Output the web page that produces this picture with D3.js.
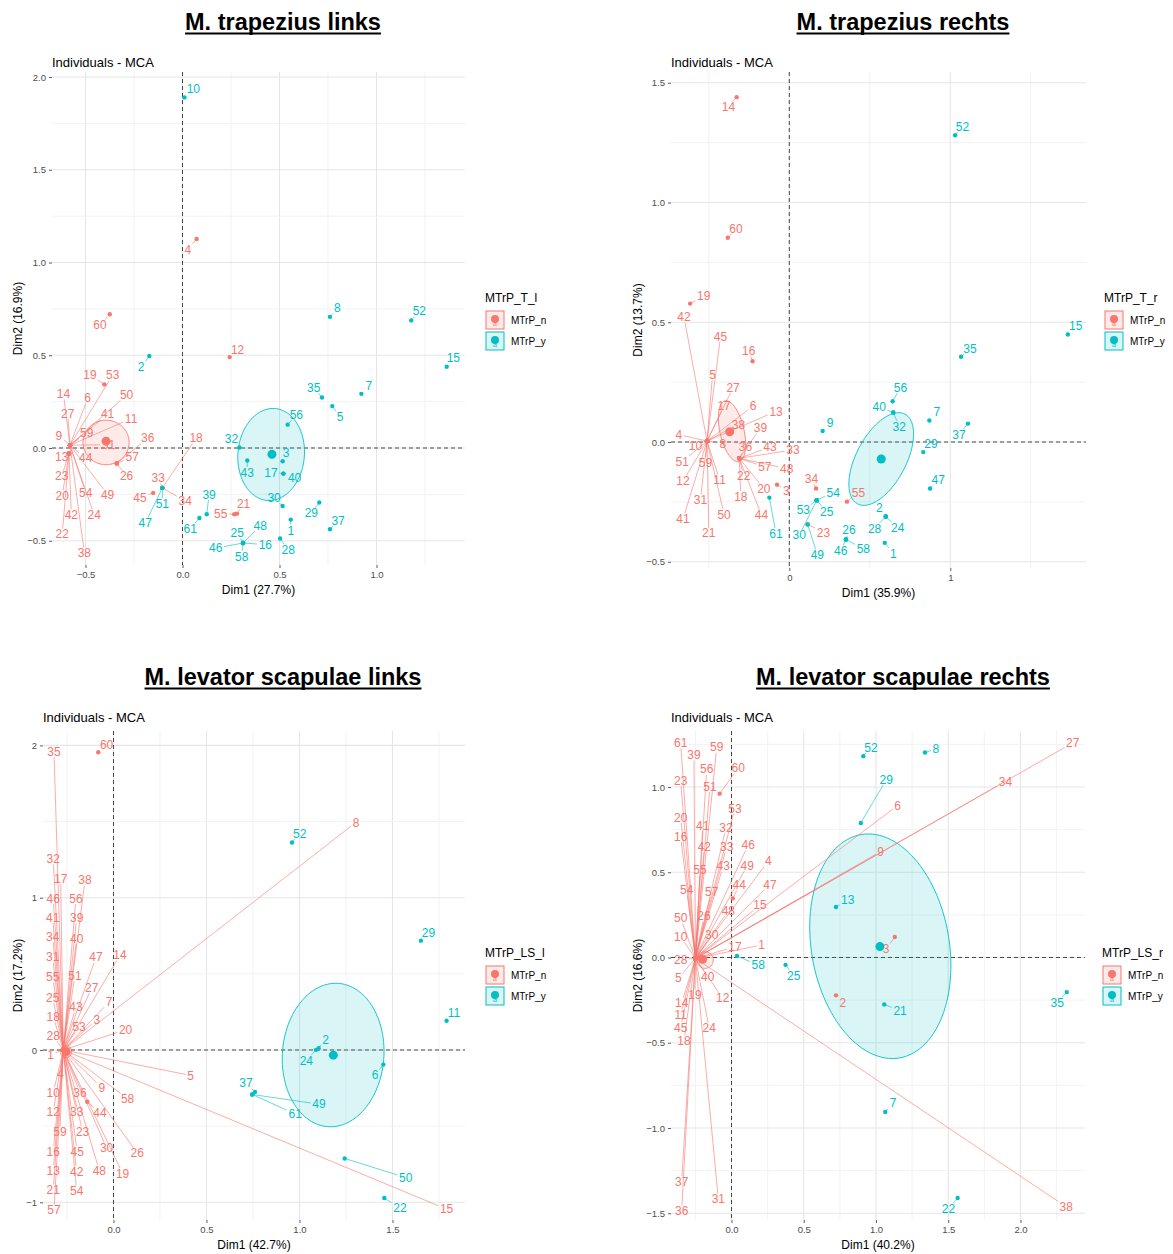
<!DOCTYPE html>
<html lang="en">
<head>
<meta charset="UTF-8">
<title>MCA individuals</title>
<script src="https://d3js.org/d3.v7.min.js"></script>
<style>
  body { margin: 0; background: #fff; }
  svg { font-family: "Liberation Sans", Arial, sans-serif; }
</style>
</head>
<body>
<div id="chart"></div>
<script>
// ---- data ----
const individuals = d3.range(1, 62).map(String);
const levels = ["MTrP_n", "MTrP_y"];

// M. trapezius links
const yesTL = [1,2,3,5,7,8,10,15,16,17,25,28,29,30,32,35,37,39,40,43,46,47,48,51,52,56,58,61];
const dim1TL = [0.558,-0.171,0.516,0.073,0.772,-0.58,0.922,0.760,-0.58,0.010,
  -0.58,0.243,-0.585,-0.58,1.362,0.312,0.520,-0.104,-0.403,-0.585,
  0.281,-0.585,-0.585,-0.58,0.312,-0.339,-0.58,0.503,0.705,0.516,
  -0.58,0.293,-0.104,-0.104,0.719,-0.339,0.760,-0.58,0.125,0.520,
  -0.58,-0.585,0.334,-0.58,-0.151,0.312,-0.104,0.312,-0.58,-0.58,
  -0.104,1.179,-0.58,-0.58,0.267,0.542,-0.339,0.312,-0.58,-0.375,0.087];
const dim2TL = [-0.386,0.496,-0.071,1.127,0.226,0.015,0.292,0.707,0.015,1.890,
  0.015,0.490,-0.03,0.015,0.438,-0.512,-0.138,-0.215,0.343,-0.03,
  -0.354,-0.03,-0.03,0.015,-0.512,-0.083,0.015,-0.488,-0.294,-0.313,
  0.015,0.003,-0.215,-0.215,0.272,-0.083,-0.438,0.015,-0.357,-0.138,
  0.015,-0.03,-0.067,0.015,-0.242,-0.512,-0.215,-0.512,0.015,0.015,
  -0.215,0.688,0.015,0.015,-0.357,0.126,-0.083,-0.512,0.015,0.721,-0.377];
const labDim1TL = [0.558,-0.214,0.534,0.027,0.812,-0.489,0.960,0.798,-0.637,0.056,
  -0.265,0.284,-0.623,-0.614,1.396,0.427,0.456,0.070,-0.477,-0.620,
  0.315,-0.620,-0.623,-0.455,0.282,-0.288,-0.592,0.545,0.664,0.472,
  -0.382,0.252,-0.125,0.014,0.676,-0.179,0.802,-0.506,0.137,0.578,
  -0.386,-0.573,0.334,-0.499,-0.219,0.171,-0.192,0.401,-0.386,-0.288,
  -0.104,1.221,-0.360,-0.499,0.197,0.587,-0.259,0.305,-0.494,-0.425,0.040];
const labDim2TL = [-0.444,0.438,-0.026,1.071,0.168,0.268,0.334,0.755,0.066,1.934,
  0.158,0.532,-0.049,0.292,0.484,-0.521,-0.132,0.053,0.397,-0.256,
  -0.300,-0.465,-0.152,-0.361,-0.458,-0.152,0.186,-0.548,-0.351,-0.267,
  0.018,0.047,-0.161,-0.286,0.324,0.053,-0.390,-0.565,-0.251,-0.161,
  0.182,-0.361,-0.132,-0.055,-0.267,-0.540,-0.405,-0.420,-0.251,0.286,
  -0.301,0.738,0.394,-0.242,-0.354,0.178,-0.049,-0.584,0.080,0.663,-0.434];
const centroidsTL = [["n",-0.394,0.037],["y",0.461,-0.034]];
const ellipsesTL = [["n",-0.394,0.03,0.119,0,0,0.12],["y",0.457,-0.035,0.018,0.248,0.171,-0.012]];

// M. trapezius rechts
const yesTR = [1,2,7,9,15,24,25,26,28,29,30,32,35,37,40,46,47,49,52,53,54,56,58,61];
const dim1TR = [0.593,0.599,-0.076,-0.511,-0.511,-0.511,0.870,-0.511,0.207,-0.511,
  -0.511,-0.511,-0.511,-0.327,1.730,-0.228,-0.511,-0.311,-0.616,-0.311,
  -0.511,-0.311,0.114,0.599,0.170,0.352,-0.511,0.599,0.832,0.170,
  -0.511,0.646,-0.311,0.166,1.067,-0.311,1.110,-0.511,-0.311,0.646,
  -0.511,-0.511,-0.311,-0.311,-0.511,0.352,0.874,-0.311,0.114,-0.511,
  -0.511,1.030,0.170,0.170,0.358,0.642,-0.311,0.352,-0.511,-0.382,-0.124];
const dim2TR = [-0.421,-0.311,-0.178,0.004,0.004,0.004,0.090,0.004,0.046,0.004,
  0.004,0.004,0.004,1.440,0.449,0.337,0.004,-0.068,0.578,-0.068,
  0.004,-0.068,-0.344,-0.311,-0.243,-0.407,0.004,-0.311,-0.042,-0.243,
  0.004,0.123,-0.068,-0.194,0.356,-0.068,0.077,0.004,-0.068,0.123,
  0.004,0.004,-0.068,-0.068,0.004,-0.407,-0.194,-0.068,-0.344,0.004,
  0.004,1.281,-0.243,-0.243,-0.249,0.170,-0.068,-0.407,0.004,0.853,-0.232];
const labDim1TR = [0.646,0.559,-0.019,-0.686,-0.477,-0.225,0.916,-0.413,0.253,-0.583,
  -0.433,-0.660,-0.082,-0.378,1.779,-0.252,-0.405,-0.301,-0.532,-0.158,
  -0.500,-0.283,0.212,0.673,0.232,0.371,-0.349,0.530,0.880,0.062,
  -0.552,0.683,0.023,0.138,1.122,-0.272,1.054,-0.316,-0.179,0.559,
  -0.660,-0.654,-0.120,-0.173,-0.427,0.319,0.925,-0.016,0.174,-0.405,
  -0.665,1.076,0.087,0.273,0.430,0.690,-0.152,0.460,-0.521,-0.331,-0.083];
const labDim2TR = [-0.465,-0.276,-0.202,0.031,0.280,0.150,0.125,-0.007,0.081,-0.014,
  -0.157,-0.163,0.128,1.399,0.484,0.380,0.150,-0.227,0.611,-0.195,
  -0.381,-0.143,-0.377,-0.357,-0.292,-0.368,0.228,-0.361,-0.007,-0.389,
  -0.242,0.065,-0.033,-0.153,0.391,-0.021,0.032,0.074,0.059,0.146,
  -0.321,0.522,-0.021,-0.305,0.441,-0.453,-0.159,-0.111,-0.469,-0.302,
  -0.081,1.317,-0.285,-0.210,-0.213,0.227,-0.104,-0.446,-0.086,0.892,-0.382];
const centroidsTR = [["n",-0.370,0.043],["y",0.571,-0.071]];
const ellipsesTR = [["n",-0.356,0.045,-0.043,0.127,0.073,0.011],["y",0.571,-0.071,0.147,0.1875,0.137,-0.048]];

// M. levator scapulae links
const yesLSL = [2,6,11,22,24,29,37,49,50,52,61];
const dim1LSL = [-0.27,1.103,-0.27,-0.27,-0.27,1.451,-0.27,-0.27,-0.27,-0.27,
  1.791,-0.27,-0.27,-0.27,-0.27,-0.27,-0.27,-0.27,-0.27,-0.27,
  -0.27,1.456,-0.27,1.089,-0.27,-0.27,-0.27,-0.27,1.653,-0.27,
  -0.27,-0.27,-0.27,-0.27,-0.27,-0.27,0.761,-0.27,-0.27,-0.27,
  -0.27,-0.27,-0.27,-0.141,-0.27,-0.27,-0.27,-0.27,0.746,1.243,
  -0.27,0.960,-0.27,-0.27,-0.27,-0.27,-0.27,-0.27,-0.27,-0.082,0.746];
const dim2LSL = [0,0.012,0,0,0,-0.096,0,0,0,0,
  0.192,0,0,0,0,0,0,0,0,0,
  0,-0.972,0,0.001,0,0,0,0,0.718,0,
  0,0,0,0,0,0,-0.275,0,0,0,
  0,0,0,-0.340,0,0,0,0,-0.292,-0.712,
  0,1.362,0,0,0,0,0,0,0,1.955,-0.292];
const labDim1LSL = [-0.338,1.141,-0.090,-0.285,0.415,1.406,-0.023,1.304,-0.063,-0.324,
  1.831,-0.324,-0.324,0.035,1.791,-0.324,-0.284,-0.324,0.049,0.065,
  -0.324,1.540,-0.166,1.037,-0.327,0.128,-0.117,-0.324,1.694,-0.037,
  -0.327,-0.324,-0.198,-0.327,-0.320,-0.180,0.712,-0.153,-0.198,-0.198,
  -0.327,-0.198,-0.202,-0.073,-0.195,-0.324,-0.094,-0.076,1.105,1.571,
  -0.207,1.001,-0.185,-0.198,-0.327,-0.202,-0.320,0.076,-0.288,-0.037,0.977];
const labDim2LSL = [-0.029,0.070,0.201,-0.155,-0.167,-0.165,0.316,1.495,-0.248,-0.280,
  0.247,-0.408,-0.792,0.622,-1.045,-0.666,1.127,0.219,-0.811,0.132,
  -0.919,-1.038,-0.535,-0.068,0.345,-0.678,0.408,0.093,0.771,-0.643,
  0.610,1.254,-0.408,0.743,1.959,-0.280,-0.218,1.116,0.867,0.732,
  0.870,-0.799,0.284,-0.413,-0.666,0.996,0.610,-0.792,-0.356,-0.838,
  0.488,1.419,0.155,-0.926,0.479,0.994,-1.050,-0.321,-0.535,2.005,-0.420];
const centroidsLSL = [["n",-0.255,-0.01],["y",1.182,-0.034]];
const ellipsesLSL = [["n",-0.255,-0.01,0.03,0,0,0.04],["y",1.181,-0.033,0.02,0.471,0.273,-0.01]];

// M. levator scapulae rechts
const yesLSR = [7,8,13,21,22,25,29,35,52,58];
const dim1LSR = [-0.25,0.723,1.130,-0.25,-0.25,-0.25,1.064,1.339,-0.25,-0.25,
  -0.25,-0.25,0.723,-0.25,-0.25,-0.25,-0.25,-0.25,-0.25,-0.25,
  1.057,1.565,-0.25,-0.25,0.374,-0.25,-0.25,-0.25,0.895,-0.25,
  -0.25,-0.25,-0.25,-0.25,2.320,-0.25,-0.25,-0.25,-0.25,-0.25,
  -0.25,-0.25,-0.25,0.009,-0.25,-0.25,-0.25,-0.25,-0.25,-0.25,
  -0.25,0.912,-0.25,-0.25,-0.25,-0.25,-0.25,0.038,-0.25,-0.082,-0.25];
const dim2LSR = [-0.005,-0.222,0.120,-0.005,-0.005,-0.005,-0.906,1.202,-0.005,-0.005,
  -0.005,-0.005,0.296,-0.005,-0.005,-0.005,-0.005,-0.005,-0.005,-0.005,
  -0.275,-1.411,-0.005,-0.005,-0.043,-0.005,-0.005,-0.005,0.789,-0.005,
  -0.005,-0.005,-0.005,-0.005,-0.203,-0.005,-0.005,-0.005,-0.005,-0.005,
  -0.005,-0.005,-0.005,0.347,-0.005,-0.005,-0.005,-0.005,-0.005,-0.005,
  -0.005,1.181,-0.005,-0.005,-0.005,-0.005,-0.005,0.009,-0.005,0.961,-0.005];
const labDim1LSR = [0.209,0.770,1.069,0.255,-0.368,1.150,1.118,1.415,1.032,-0.352,
  -0.352,-0.061,0.804,-0.345,0.197,-0.352,0.024,-0.329,-0.253,-0.352,
  1.167,1.501,-0.352,-0.154,0.431,-0.190,2.362,-0.352,1.071,-0.137,
  -0.091,-0.038,-0.033,1.896,2.254,-0.345,-0.345,2.316,-0.260,-0.165,
  -0.199,-0.188,-0.057,0.054,-0.352,0.116,0.266,-0.022,0.109,-0.352,
  -0.149,0.965,0.024,-0.310,-0.218,-0.172,-0.137,0.185,-0.102,0.046,-0.352];
const labDim2LSR = [0.073,-0.265,0.050,0.566,-0.122,0.892,-0.854,1.224,0.622,0.122,
  -0.338,-0.239,0.341,-0.268,0.308,0.709,0.063,-0.490,-0.220,0.822,
  -0.312,-1.476,1.037,-0.415,-0.107,0.243,1.259,-0.015,1.043,0.132,
  -1.418,0.761,0.650,1.033,-0.265,-1.485,-1.315,-1.462,1.188,-0.112,
  0.773,0.650,0.537,0.425,-0.410,0.660,0.429,0.274,0.538,0.230,
  1.002,1.232,0.875,0.396,0.513,1.104,0.386,-0.045,1.233,1.111,1.260];
const centroidsLSR = [["n",-0.20,-0.01],["y",1.027,0.064]];
const ellipsesLSR = [["n",-0.183,-0.015,0.057,0,0,0.049],["y",1.030,0.066,-0.133,0.655,0.470,0.069]];

// ---- layout ----
const colors = { n: "#F8766D", y: "#00BFC4" };
const svg = d3.select("#chart").append("svg").attr("width", 1173).attr("height", 1254);

const panels = [
  { title: "M. trapezius links", titleX: 283, titleY: 30, left: 52, right: 465, top: 72, bottom: 565,
    xDomain: [-0.6727, 1.4562], yDomain: [-0.6307, 2.027], subY: 67,
    xTicks: [-0.5, 0, 0.5, 1], xFmt: ".1f", yTicks: [-0.5, 0, 0.5, 1, 1.5, 2], yFmt: ".1f", gx: 0.25, gy: 0.25,
    xTitle: "Dim1 (27.7%)", yTitle: "Dim2 (16.9%)", yTitleX: 18, legend: "MTrP_T_l", legX: 485, legY: 302,
    yes: yesTL, d1: dim1TL, d2: dim2TL, l1: labDim1TL, l2: labDim2TL, cen: centroidsTL, ell: ellipsesTL },
  { title: "M. trapezius rechts", titleX: 903, titleY: 30, left: 671, right: 1086, top: 72, bottom: 568,
    xDomain: [-0.7348, 1.8429], yDomain: [-0.526, 1.545], subY: 67,
    xTicks: [0, 1], xFmt: "d", yTicks: [-0.5, 0, 0.5, 1, 1.5], yFmt: ".1f", gx: 0.5, gy: 0.25,
    xTitle: "Dim1 (35.9%)", yTitle: "Dim2 (13.7%)", yTitleX: 638, legend: "MTrP_T_r", legX: 1104, legY: 302,
    yes: yesTR, d1: dim1TR, d2: dim2TR, l1: labDim1TR, l2: labDim2TR, cen: centroidsTR, ell: ellipsesTR },
  { title: "M. levator scapulae links", titleX: 283, titleY: 685, left: 43, right: 465, top: 731, bottom: 1220,
    xDomain: [-0.379, 1.890], yDomain: [-1.1162, 2.0945], subY: 722,
    xTicks: [0, 0.5, 1, 1.5], xFmt: ".1f", yTicks: [-1, 0, 1, 2], yFmt: "d", gx: 0.25, gy: 0.5,
    xTitle: "Dim1 (42.7%)", yTitle: "Dim2 (17.2%)", yTitleX: 18, legend: "MTrP_LS_l", legX: 485, legY: 957,
    yes: yesLSL, d1: dim1LSL, d2: dim2LSL, l1: labDim1LSL, l2: labDim2LSL, cen: centroidsLSL, ell: ellipsesLSL },
  { title: "M. levator scapulae rechts", titleX: 903, titleY: 685, left: 671, right: 1085, top: 731, bottom: 1220,
    xDomain: [-0.4187, 2.4464], yDomain: [-1.5396, 1.3284], subY: 722,
    xTicks: [0, 0.5, 1, 1.5, 2], xFmt: ".1f", yTicks: [-1.5, -1, -0.5, 0, 0.5, 1], yFmt: ".1f", gx: 0.25, gy: 0.25,
    xTitle: "Dim1 (40.2%)", yTitle: "Dim2 (16.6%)", yTitleX: 638, legend: "MTrP_LS_r", legX: 1102, legY: 957,
    yes: yesLSR, d1: dim1LSR, d2: dim2LSR, l1: labDim1LSR, l2: labDim2LSR, cen: centroidsLSR, ell: ellipsesLSR }
];

function gridValues(domain, step) {
  return d3.range(Math.ceil(domain[0] / step) * step, domain[1] + 1e-9, step);
}

panels.forEach(cfg => {
  const x = d3.scaleLinear().domain(cfg.xDomain).range([cfg.left, cfg.right]);
  const y = d3.scaleLinear().domain(cfg.yDomain).range([cfg.bottom, cfg.top]);
  const g = svg.append("g");

  // big underlined title
  const t = g.append("text").attr("x", cfg.titleX).attr("y", cfg.titleY)
    .attr("text-anchor", "middle").attr("font-size", 23.5).attr("font-weight", "bold").text(cfg.title);
  const bb = t.node().getBBox();
  g.append("line").attr("x1", bb.x).attr("x2", bb.x + bb.width)
    .attr("y1", cfg.titleY + 3.5).attr("y2", cfg.titleY + 3.5).attr("stroke", "#000").attr("stroke-width", 2);

  g.append("text").attr("x", cfg.left).attr("y", cfg.subY).attr("font-size", 13).text("Individuals - MCA");

  // grid
  const grid = g.append("g");
  gridValues(cfg.xDomain, cfg.gx).forEach(v => {
    const major = cfg.xTicks.some(tk => Math.abs(tk - v) < 1e-6);
    grid.append("line").attr("x1", x(v)).attr("x2", x(v)).attr("y1", cfg.top).attr("y2", cfg.bottom)
      .attr("stroke", major ? "#e6e6e6" : "#f0f0f0").attr("stroke-width", major ? 1.1 : 0.9);
  });
  gridValues(cfg.yDomain, cfg.gy).forEach(v => {
    const major = cfg.yTicks.some(tk => Math.abs(tk - v) < 1e-6);
    grid.append("line").attr("y1", y(v)).attr("y2", y(v)).attr("x1", cfg.left).attr("x2", cfg.right)
      .attr("stroke", major ? "#e6e6e6" : "#f0f0f0").attr("stroke-width", major ? 1.1 : 0.9);
  });

  // axes
  const ax = g.append("g").attr("transform", `translate(0,${cfg.bottom})`)
    .call(d3.axisBottom(x).tickValues(cfg.xTicks).tickFormat(d3.format(cfg.xFmt)).tickSize(3).tickPadding(3));
  const ay = g.append("g").attr("transform", `translate(${cfg.left},0)`)
    .call(d3.axisLeft(y).tickValues(cfg.yTicks).tickFormat(d3.format(cfg.yFmt)).tickSize(3).tickPadding(3));
  [ax, ay].forEach(a => {
    a.select(".domain").remove();
    a.selectAll(".tick line").attr("stroke", "#333").attr("stroke-width", 0.8);
    a.selectAll(".tick text").attr("fill", "#4D4D4D").attr("font-size", 9.5)
      .attr("font-family", "Liberation Sans, Arial, sans-serif");
  });

  g.append("text").attr("x", (cfg.left + cfg.right) / 2).attr("y", cfg.bottom + 29)
    .attr("text-anchor", "middle").attr("font-size", 12).text(cfg.xTitle);
  g.append("text").attr("transform", `translate(${cfg.yTitleX},${(cfg.top + cfg.bottom) / 2}) rotate(-90)`)
    .attr("text-anchor", "middle").attr("dy", "0.35em").attr("font-size", 12).text(cfg.yTitle);

  // reference lines
  g.append("line").attr("x1", x(0)).attr("x2", x(0)).attr("y1", cfg.top).attr("y2", cfg.bottom)
    .attr("stroke", "#000").attr("stroke-width", 0.7).attr("stroke-dasharray", "4,3");
  g.append("line").attr("x1", cfg.left).attr("x2", cfg.right).attr("y1", y(0)).attr("y2", y(0))
    .attr("stroke", "#000").attr("stroke-width", 0.7).attr("stroke-dasharray", "4,3");

  // ellipses
  const ellLine = d3.line();
  cfg.ell.forEach(([grp, cx, cy, ux, uy, vx, vy]) => {
    const pts = d3.range(0, 2 * Math.PI + 0.01, Math.PI / 60).map(a =>
      [x(cx + ux * Math.cos(a) + vx * Math.sin(a)), y(cy + uy * Math.cos(a) + vy * Math.sin(a))]);
    g.append("path").attr("d", ellLine(pts) + "Z").attr("fill", colors[grp]).attr("fill-opacity", 0.15)
      .attr("stroke", colors[grp]).attr("stroke-width", 0.9);
  });

  const data = individuals.map((id, i) => ({
    id, grp: cfg.yes.includes(+id) ? "y" : "n",
    px: x(cfg.d1[i]), py: y(cfg.d2[i]), lx: x(cfg.l1[i]), ly: y(cfg.l2[i])
  }));

  const segLayer = g.append("g");
  const ptLayer = g.append("g");
  const cenLayer = g.append("g");
  const labLayer = g.append("g");

  data.forEach(d => {
    ptLayer.append("circle").attr("cx", d.px).attr("cy", d.py).attr("r", 2.2).attr("fill", colors[d.grp]);
    const lab = labLayer.append("text").attr("x", d.lx).attr("y", d.ly).attr("dy", "0.35em")
      .attr("text-anchor", "middle").attr("font-size", 12).attr("fill", colors[d.grp]).text(d.id);
    const b = lab.node().getBBox();
    const hw = b.width / 2 + 1.5, hh = 5.5;
    const vx = d.px - d.lx, vy = d.py - d.ly;
    if (Math.abs(vx) <= hw && Math.abs(vy) <= hh) return;
    const s = Math.min(vx === 0 ? Infinity : hw / Math.abs(vx), vy === 0 ? Infinity : hh / Math.abs(vy));
    const ex = d.lx + vx * s, ey = d.ly + vy * s;
    if (Math.hypot(d.px - ex, d.py - ey) < 4) return;
    segLayer.append("line").attr("x1", d.px).attr("y1", d.py).attr("x2", ex).attr("y2", ey)
      .attr("stroke", colors[d.grp]).attr("stroke-width", 0.6);
  });

  cfg.cen.forEach(([grp, cx, cy]) => {
    cenLayer.append("circle").attr("cx", x(cx)).attr("cy", y(cy)).attr("r", 4.5).attr("fill", colors[grp]);
  });

  // legend
  const lg = g.append("g").attr("transform", `translate(${cfg.legX},${cfg.legY})`);
  lg.append("text").attr("font-size", 12).text(cfg.legend);
  ["n", "y"].forEach((grp, i) => {
    const top = 9 + i * 21;
    lg.append("rect").attr("x", 1).attr("y", top).attr("width", 18).attr("height", 18)
      .attr("fill", colors[grp]).attr("fill-opacity", 0.15).attr("stroke", colors[grp]).attr("stroke-width", 1);
    lg.append("circle").attr("cx", 10).attr("cy", top + 8).attr("r", 4).attr("fill", colors[grp]);
    lg.append("text").attr("x", 10).attr("y", top + 15).attr("text-anchor", "middle")
      .attr("font-size", 7).attr("fill", colors[grp]).text("a");
    lg.append("text").attr("x", 26).attr("y", top + 9).attr("dy", "0.35em").attr("font-size", 10).text(levels[i]);
  });
});
</script>
</body>
</html>
